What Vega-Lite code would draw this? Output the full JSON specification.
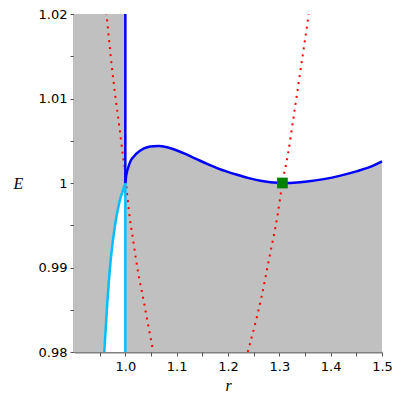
{
  "$schema": "https://vega.github.io/schema/vega-lite/v6.json",
  "autosize": {"type": "none"},
  "padding": {"left": 74, "top": 14, "right": 18, "bottom": 48},
  "width": 308,
  "height": 338,
  "background": "white",
  "config": {"view": {"stroke": null}},
  "resolve": {"axis": {"x": "independent"}},
  "datasets": {
    "grayleft": [{"r0": 0.9, "r1": 1.0, "E0": 0.98, "E1": 1.02}],
    "blue": [
      {"r": 1.0, "E": 1.0},
      {"r": 1.0015, "E": 1.0008},
      {"r": 1.0033, "E": 1.00135},
      {"r": 1.0065, "E": 1.002},
      {"r": 1.0097, "E": 1.00254},
      {"r": 1.0145, "E": 1.003},
      {"r": 1.0195, "E": 1.00335},
      {"r": 1.0292, "E": 1.00385},
      {"r": 1.0423, "E": 1.00423},
      {"r": 1.0552, "E": 1.00436},
      {"r": 1.0649, "E": 1.00437},
      {"r": 1.0813, "E": 1.00422},
      {"r": 1.1008, "E": 1.00385},
      {"r": 1.1203, "E": 1.00335},
      {"r": 1.1398, "E": 1.0028},
      {"r": 1.1593, "E": 1.00226},
      {"r": 1.1788, "E": 1.00177},
      {"r": 1.1983, "E": 1.00134},
      {"r": 1.2177, "E": 1.00097},
      {"r": 1.2404, "E": 1.00058},
      {"r": 1.2632, "E": 1.00027},
      {"r": 1.2827, "E": 1.0001},
      {"r": 1.296, "E": 1.00003},
      {"r": 1.306, "E": 1.0},
      {"r": 1.318, "E": 1.00001},
      {"r": 1.3281, "E": 1.00004},
      {"r": 1.3542, "E": 1.00018},
      {"r": 1.3865, "E": 1.00046},
      {"r": 1.4191, "E": 1.00087},
      {"r": 1.4517, "E": 1.0014},
      {"r": 1.484, "E": 1.00208},
      {"r": 1.5, "E": 1.00255}
    ],
    "cyan": [
      {"r": 0.959, "E": 0.98},
      {"r": 0.9643, "E": 0.98527},
      {"r": 0.9708, "E": 0.99044},
      {"r": 0.9805, "E": 0.9952},
      {"r": 0.9903, "E": 0.99818},
      {"r": 0.9968, "E": 0.99937},
      {"r": 1.0, "E": 1.0}
    ],
    "red1": [
      {"r": 0.963, "E": 1.0202},
      {"r": 0.9741, "E": 1.01354},
      {"r": 0.9805, "E": 1.01027},
      {"r": 0.9883, "E": 1.0067},
      {"r": 0.9955, "E": 1.00313},
      {"r": 1.0, "E": 1.00115},
      {"r": 1.0033, "E": 0.99877},
      {"r": 1.0064, "E": 0.99699},
      {"r": 1.0162, "E": 0.99282},
      {"r": 1.0248, "E": 0.98944},
      {"r": 1.0357, "E": 0.98607},
      {"r": 1.0454, "E": 0.98289},
      {"r": 1.0545, "E": 0.98}
    ],
    "red2": [
      {"r": 1.2384, "E": 0.98},
      {"r": 1.252, "E": 0.9831},
      {"r": 1.2645, "E": 0.98631},
      {"r": 1.2807, "E": 0.99123},
      {"r": 1.2963, "E": 0.99611},
      {"r": 1.306, "E": 1.0},
      {"r": 1.3172, "E": 1.00354},
      {"r": 1.3275, "E": 1.0077},
      {"r": 1.3573, "E": 1.02}
    ],
    "vlines": [
      {"r": 1.0, "E0": 1.0, "E1": 1.02, "s": "blue"},
      {"r": 1.0, "E0": 0.98, "E1": 1.0, "s": "cyan"}
    ],
    "green": [{"r": 1.306, "E": 1.0}]
  },
  "layer": [
    {
      "data": {"name": "grayleft"},
      "mark": {"type": "rect", "color": "#c0c0c0"},
      "encoding": {
        "x": {"field": "r0", "type": "quantitative", "scale": {"domain": [0.9, 1.5], "nice": false, "zero": false},
          "axis": {
            "orient": "bottom",
            "values": [1.0, 1.1, 1.2, 1.3, 1.4, 1.5],
            "format": ".1f",
            "labelOverlap": false,
            "labelFlush": false,
            "title": "r",
            "titleFont": "Liberation Serif", "titleFontStyle": "italic", "titleFontWeight": "normal", "titleFontSize": 16, "titleColor": "black",
            "labelFont": "DejaVu Sans", "labelFontSize": 13, "labelColor": "black", "labelPadding": 4,
            "domainColor": "#808080", "domainWidth": 2, "tickColor": "#555555", "tickSize": 4, "tickWidth": 1,
            "grid": false
          }
        },
        "x2": {"field": "r1"},
        "y": {"field": "E0", "type": "quantitative", "scale": {"domain": [0.98, 1.02], "nice": false, "zero": false},
          "axis": {
            "values": [0.98, 0.985, 0.99, 0.995, 1.0, 1.005, 1.01, 1.015, 1.02],
            "labelExpr": "abs(round(datum.value*100) - datum.value*100) > 0.01 ? '' : (datum.value == 1 ? '1' : format(datum.value, '.2f'))",
            "labelOverlap": false,
            "title": "E",
            "titleFont": "Liberation Serif", "titleFontStyle": "italic", "titleFontWeight": "normal", "titleFontSize": 16, "titleColor": "black",
            "titleAngle": 0, "titleAlign": "center", "titleBaseline": "middle", "titleX": -56, "titleY": 169,
            "labelFont": "DejaVu Sans", "labelFontSize": 13, "labelColor": "black", "labelPadding": 3,
            "domainColor": "#808080", "domainWidth": 2, "tickColor": "#555555", "tickSize": 4, "tickWidth": 1,
            "grid": false
          }
        },
        "y2": {"field": "E1"}
      }
    },
    {
      "data": {"name": "blue"},
      "mark": {"type": "area", "color": "#c0c0c0", "interpolate": "monotone"},
      "encoding": {
        "x": {"field": "r", "type": "quantitative", "axis": null},
        "y": {"field": "E", "type": "quantitative"},
        "y2": {"datum": 0.98}
      }
    },
    {
      "data": {"name": "cyan"},
      "mark": {"type": "area", "color": "white", "interpolate": "monotone"},
      "encoding": {
        "x": {"field": "r", "type": "quantitative", "axis": null},
        "y": {"field": "E", "type": "quantitative"},
        "y2": {"datum": 0.98}
      }
    },
    {
      "data": {"name": "red1"},
      "mark": {"type": "line", "color": "#ff0000", "strokeWidth": 2, "strokeDash": [2, 5], "interpolate": "monotone", "clip": true},
      "encoding": {
        "x": {"field": "r", "type": "quantitative", "axis": null},
        "y": {"field": "E", "type": "quantitative"}
      }
    },
    {
      "data": {"name": "red2"},
      "mark": {"type": "line", "color": "#ff0000", "strokeWidth": 2, "strokeDash": [2, 5], "interpolate": "monotone", "clip": true},
      "encoding": {
        "x": {"field": "r", "type": "quantitative", "axis": null},
        "y": {"field": "E", "type": "quantitative"}
      }
    },
    {
      "data": {"name": "cyan"},
      "mark": {"type": "line", "color": "#00bfff", "strokeWidth": 2.5, "interpolate": "monotone"},
      "encoding": {
        "x": {"field": "r", "type": "quantitative", "axis": null},
        "y": {"field": "E", "type": "quantitative"}
      }
    },
    {
      "data": {"name": "vlines"},
      "mark": {"type": "rule", "strokeWidth": 2.5},
      "encoding": {
        "x": {"field": "r", "type": "quantitative", "axis": null},
        "y": {"field": "E0", "type": "quantitative"},
        "y2": {"field": "E1"},
        "color": {"field": "s", "type": "nominal", "scale": {"domain": ["blue", "cyan"], "range": ["#0000ff", "#00bfff"]}, "legend": null}
      }
    },
    {
      "data": {"name": "blue"},
      "mark": {"type": "line", "color": "#0000ff", "strokeWidth": 2.5, "interpolate": "monotone"},
      "encoding": {
        "x": {"field": "r", "type": "quantitative", "axis": null},
        "y": {"field": "E", "type": "quantitative"}
      }
    },
    {
      "data": {"name": "green"},
      "mark": {"type": "point", "shape": "square", "filled": true, "color": "#008000", "opacity": 1, "size": 115},
      "encoding": {
        "x": {"field": "r", "type": "quantitative",
          "axis": {
            "orient": "bottom",
            "values": [0.95, 1.05, 1.15, 1.25, 1.35, 1.45],
            "labels": false,
            "domain": false,
            "title": null,
            "grid": false,
            "tickColor": "#555555", "tickSize": 4, "tickWidth": 1
          }
        },
        "y": {"field": "E", "type": "quantitative"}
      }
    }
  ]
}
